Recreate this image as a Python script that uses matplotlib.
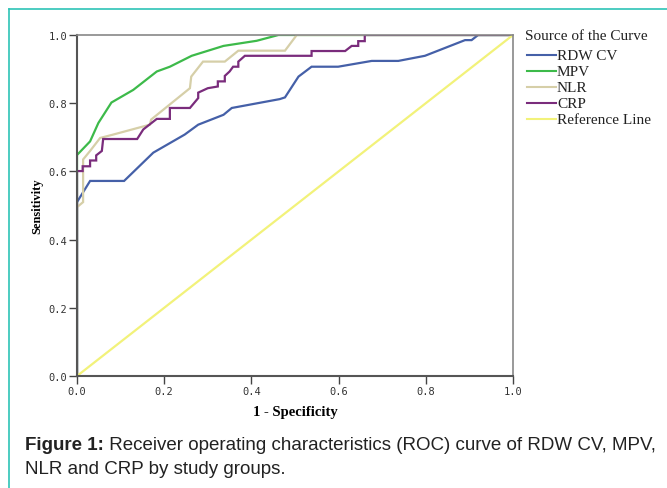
import matplotlib
matplotlib.use("Agg")
import matplotlib.pyplot as plt
from matplotlib.lines import Line2D

# ---- data ----
rdw_fpr = [0.0, 0.0, 0.03, 0.108, 0.175, 0.247, 0.278, 0.336, 0.355, 0.465, 0.477, 0.508, 0.538, 0.599, 0.676, 0.737, 0.798, 0.890, 0.905, 0.92, 1.0]
rdw_tpr = [0.0, 0.51, 0.572, 0.572, 0.655, 0.708, 0.737, 0.766, 0.786, 0.812, 0.817, 0.878, 0.907, 0.907, 0.924, 0.924, 0.939, 0.985, 0.985, 1.0, 1.0]

mpv_fpr = [0.0, 0.0, 0.03, 0.049, 0.079, 0.129, 0.183, 0.213, 0.263, 0.336, 0.412, 0.462, 1.0]
mpv_tpr = [0.0, 0.648, 0.688, 0.742, 0.802, 0.839, 0.893, 0.907, 0.939, 0.968, 0.983, 1.0, 1.0]

nlr_fpr = [0.0, 0.0, 0.014, 0.014, 0.03, 0.053, 0.083, 0.167, 0.17, 0.259, 0.262, 0.289, 0.339, 0.37, 0.477, 0.504, 1.0]
nlr_tpr = [0.0, 0.495, 0.51, 0.635, 0.66, 0.698, 0.708, 0.737, 0.752, 0.844, 0.878, 0.922, 0.922, 0.954, 0.954, 1.0, 1.0]

crp_fpr = [0.0, 0.0, 0.013, 0.013, 0.03, 0.03, 0.044, 0.044, 0.057, 0.06, 0.138, 0.152, 0.183, 0.213, 0.213,
           0.259, 0.278, 0.278, 0.30, 0.323, 0.323, 0.339, 0.339, 0.35, 0.358, 0.37, 0.37, 0.385, 0.538, 0.538,
           0.615, 0.63, 0.645, 0.645, 0.66, 0.66, 1.0]
crp_tpr = [0.0, 0.601, 0.601, 0.615, 0.615, 0.632, 0.632, 0.647, 0.66, 0.695, 0.695, 0.723, 0.754, 0.754, 0.786,
           0.786, 0.815, 0.831, 0.844, 0.849, 0.864, 0.864, 0.88, 0.893, 0.907, 0.907, 0.922, 0.939, 0.939, 0.953,
           0.953, 0.968, 0.968, 0.982, 0.982, 1.0, 1.0]

ref_x = [0.0, 1.0]
ref_y = [0.0, 1.0]

labels = ["RDW CV", "MPV", "NLR", "CRP", "Reference Line"]
colors = ["#4560A8", "#3DBA4A", "#D6CFA8", "#7A2C7C", "#F2F27A"]

caption_bold = "Figure 1:"
caption_rest = " Receiver operating characteristics (ROC) curve of RDW CV, MPV,"
caption_line2 = "NLR and CRP by study groups."

W, H = 667, 489

def fx(px):
    return px / W

def fy(py):
    return 1 - py / H

# ---- figure ----
fig = plt.figure(figsize=(6.67, 4.89), dpi=100)
ax = fig.add_axes([77/W, 112/H, 436/W, 341/H])

series = [(rdw_fpr, rdw_tpr), (mpv_fpr, mpv_tpr), (nlr_fpr, nlr_tpr), (crp_fpr, crp_tpr), (ref_x, ref_y)]
for (xs, ys), lab, col in zip(series, labels, colors):
    ax.plot(xs, ys, color=col, lw=1.6, label=lab, solid_joinstyle="miter")

ax.set_xlim(0, 1)
ax.set_ylim(0, 1)
ticks = [0.0, 0.2, 0.4, 0.6, 0.8, 1.0]
ax.set_xticks(ticks)
ax.set_yticks(ticks)
ax.set_xticklabels([f"{t:.1f}" for t in ticks], family="DejaVu Sans Mono", fontsize=7.5, color="#333333")
ax.set_yticklabels([f"{t:.1f}" for t in ticks], family="DejaVu Sans Mono", fontsize=7.5, color="#333333")
ax.tick_params(axis="both", direction="out", length=6, width=1, color="#444444", pad=1)
ax.tick_params(top=False, right=False)

for side in ["left", "bottom"]:
    ax.spines[side].set_color("#555555")
    ax.spines[side].set_linewidth(1.5)
for side in ["top", "right"]:
    ax.spines[side].set_color("#888888")
    ax.spines[side].set_linewidth(1.2)

ax.set_xlabel("1 - Specificity", family="Liberation Serif", fontweight="bold", fontsize=10.5, labelpad=7)
ax.set_ylabel("Sensitivity", family="Liberation Serif", fontweight="bold", fontsize=9, labelpad=4)

# legend drawn in figure coordinates (SPSS style)
leg_font = {"family": "Liberation Serif", "size": 11, "color": "#222222"}
fig.text(fx(525), fy(37), "Source of the Curve", ha="left", va="center", **leg_font)
for i, (lab, col) in enumerate(zip(labels, colors)):
    yy = fy(56 + 16 * i)
    fig.add_artist(Line2D([fx(527), fx(556)], [yy, yy], color=col, lw=1.5, transform=fig.transFigure))
    fig.text(fx(557), yy, lab, ha="left", va="center", **leg_font)

# caption
t1 = fig.text(fx(25), fy(446), caption_bold, family="Liberation Sans", fontweight="bold",
              fontsize=13.5, va="center", ha="left", color="#222222")
fig.canvas.draw()
bb = t1.get_window_extent()
fig.text(bb.x1 / fig.bbox.width, fy(446), caption_rest, family="Liberation Sans",
         fontsize=13.5, va="center", ha="left", color="#222222")
fig.text(fx(25), fy(470), caption_line2, family="Liberation Sans",
         fontsize=13.5, va="center", ha="left", color="#222222")

# teal frame lines (left and top)
fig.add_artist(Line2D([fx(9), fx(9)], [0, fy(10)], color="#2EC4B6", lw=1.2, transform=fig.transFigure))
fig.add_artist(Line2D([fx(9), 1], [fy(10), fy(10)], color="#2EC4B6", lw=1.2, transform=fig.transFigure))

fig.savefig("out.png", dpi=100)
